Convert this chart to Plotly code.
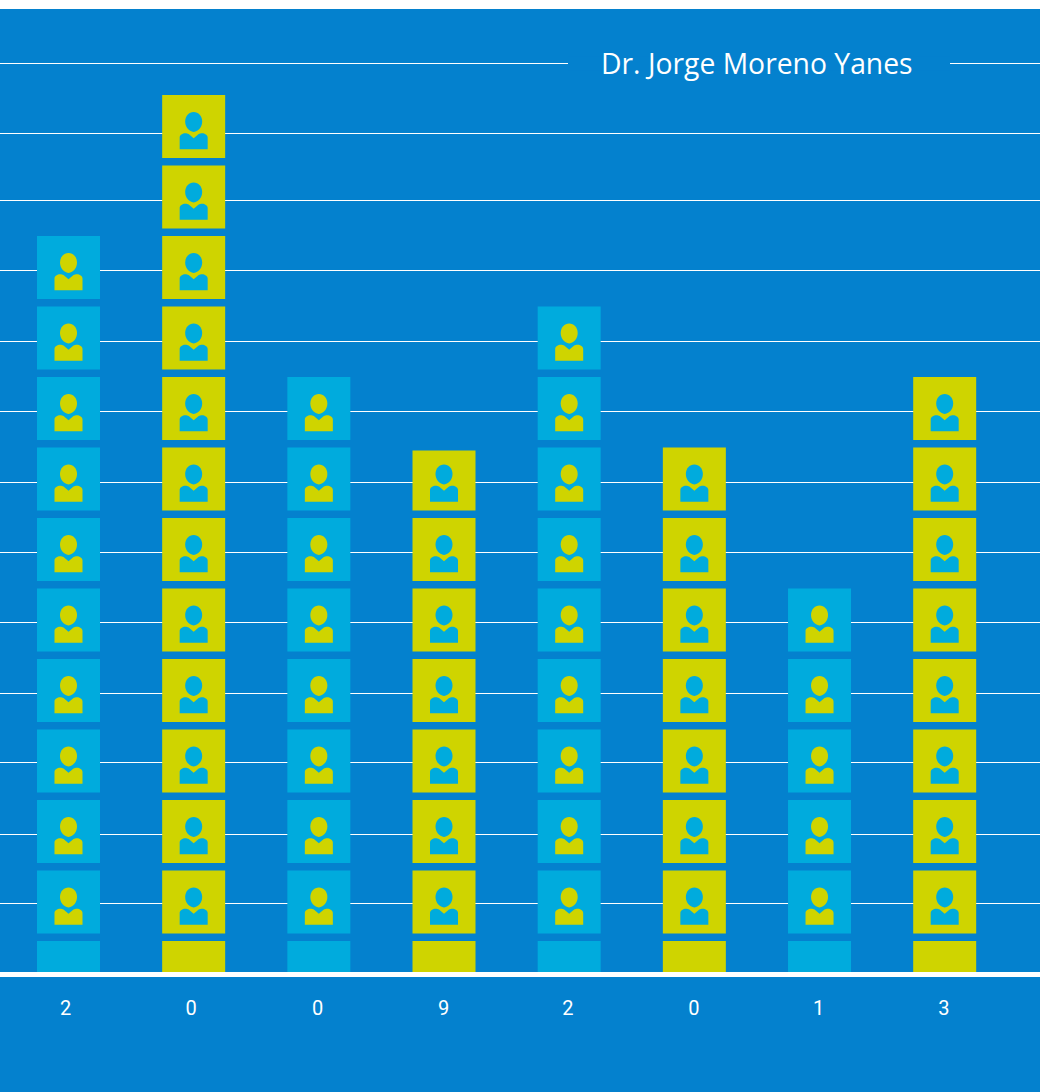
import plotly.graph_objects as go

# Data
title = "Dr. Jorge Moreno Yanes"
tick_labels = ["2", "0", "0", "9", "2", "0", "1", "3"]
icon_counts = [11, 13, 9, 8, 10, 8, 6, 9]
grid_levels = [0.965, 1.957, 2.965, 3.957, 4.957, 5.95, 6.95, 7.95, 8.94, 9.95, 10.95, 11.9, 12.89]

# Style
BG = "#0481CE"
CYAN = "#00ABDD"
LIME = "#CFD400"
W, H = 1040, 1092
M_TOP, M_BOTTOM = 9, 120
UNIT_PX = 70.5
COL0_PX, COL_STEP_PX = 68.5, 125.17
LABEL_NUDGE_PX = [-3, -2.5, -1.2, -0.5, -1.2, -0.5, -1, -0.8]
TOP_CELL_TRIM_PX = [0, 0, 0, 3, 0, 0, 0, 0]
CELL_PX = 63
FIRST_TOP = 31 / UNIT_PX
CELL_H = CELL_PX / UNIT_PX


def px_to_x(px):
    return (px - COL0_PX) / COL_STEP_PX


xs, bases, heights, colors = [], [], [], []
shapes = []
HEAD = (
    "M -8.5 5 C -8.5 10.5 -4.7 14.5 0 14.5 C 4.7 14.5 8.5 10.5 8.5 5 "
    "C 8.5 -0.5 5 -4.5 0 -5.5 C -5 -4.5 -8.5 -0.5 -8.5 5 Z"
)
BODY = (
    "M -14 -22.7 L -14 -11 C -14 -8.5 -11 -6.8 -8.5 -6.8 "
    "C -7 -6.8 -6 -7 -5 -7.6 L 0 -11.7 L 5 -7.6 "
    "C 6 -7 7 -6.8 8.5 -6.8 C 11 -6.8 14 -8.5 14 -11 L 14 -22.7 Z"
)

for i, count in enumerate(icon_counts):
    cell_color = LIME if i % 2 else CYAN
    icon_color = CYAN if i % 2 else LIME
    for k in range(count):
        top = FIRST_TOP + k
        trim = TOP_CELL_TRIM_PX[i] / UNIT_PX if k == count - 1 else 0
        xs.append(i)
        bases.append(top - CELL_H)
        heights.append(CELL_H - trim)
        colors.append(cell_color)
        if k == 0:
            continue  # the lowest cell is cut by the axis and carries no icon
        for path in (HEAD, BODY):
            shapes.append(dict(
                type="path", path=path, xref="x", yref="y",
                xsizemode="pixel", ysizemode="pixel",
                xanchor=i, yanchor=top - CELL_H / 2,
                fillcolor=icon_color, line=dict(width=0), layer="above",
            ))

# white strip above the chart, and gap in the top gridline behind the title
shapes.append(dict(type="rect", xref="paper", yref="paper", x0=0, x1=1,
                   y0=1, y1=1 + M_TOP / (H - M_TOP - M_BOTTOM),
                   fillcolor="white", line=dict(width=0), layer="above"))
shapes.append(dict(type="rect", xref="x", yref="y", x0=px_to_x(568), x1=px_to_x(950),
                   y0=grid_levels[-1] - 0.1, y1=grid_levels[-1] + 0.1,
                   fillcolor=BG, line=dict(width=0), layer="between"))

fig = go.Figure(go.Bar(
    x=xs, y=heights, base=bases, width=CELL_PX / COL_STEP_PX,
    marker=dict(color=colors, line=dict(width=0)), hoverinfo="skip",
))

fig.update_layout(
    width=W, height=H, margin=dict(l=0, r=0, t=M_TOP, b=M_BOTTOM, pad=0),
    paper_bgcolor=BG, plot_bgcolor=BG, showlegend=False, barmode="overlay",
    shapes=shapes,
    xaxis=dict(
        range=[px_to_x(0), px_to_x(W)], tickmode="array",
        tickvals=[i + n / COL_STEP_PX for i, n in enumerate(LABEL_NUDGE_PX)],
        ticktext=tick_labels, showgrid=False, zeroline=False,
        showline=True, linecolor="white", linewidth=5,
        ticks="outside", ticklen=14, tickcolor="rgba(0,0,0,0)",
        tickfont=dict(family="Roboto", size=20, color="white"),
    ),
    yaxis=dict(
        range=[0, (H - M_TOP - M_BOTTOM) / UNIT_PX], tickmode="array",
        tickvals=grid_levels, showticklabels=False, ticks="",
        showgrid=True, gridcolor="white", gridwidth=1.4, zeroline=False, showline=False,
    ),
    annotations=[dict(
        text=title, xref="paper", yref="y", x=756.5 / W, y=grid_levels[-1],
        xanchor="center", yanchor="middle", showarrow=False,
        font=dict(family="Open Sans", size=28.3, color="white"),
    )],
)

fig.write_html("out.html", config=dict(displayModeBar=False),
               post_script="document.body.style.margin='0';")
